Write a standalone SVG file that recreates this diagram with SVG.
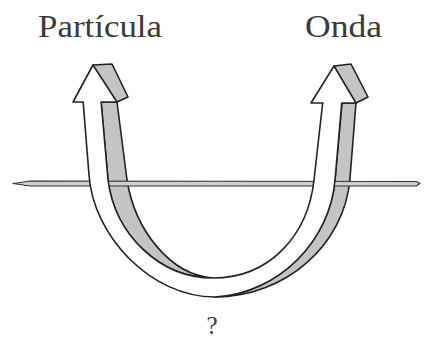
<svg xmlns="http://www.w3.org/2000/svg" width="425" height="342" viewBox="0 0 425 342">
<style>
.lbl{font-family:"Liberation Serif","Times New Roman",serif;fill:#3a3a3a}
.edge{stroke:#222;stroke-width:1.6;stroke-linejoin:round;stroke-linecap:round}
.gray{fill:#c4c4c4}
.white{fill:#ffffff}
</style>
<rect width="425" height="342" fill="#ffffff"/>
<g id="label-particula"><text class="lbl" x="38" y="37" font-size="32" textLength="124" lengthAdjust="spacingAndGlyphs">Partícula</text></g>
<g id="label-onda"><text class="lbl" x="305" y="37" font-size="32" textLength="77" lengthAdjust="spacingAndGlyphs">Onda</text></g>
<g id="label-question"><text class="lbl" x="212" y="334" font-size="25" text-anchor="middle" fill="#555">?</text></g>
<g id="connectors">
  <g id="ribbon">
    <path class="gray edge" d="M356,103 L350,178 C345,245 285,297 215,297 C280,293 330,240 335,180 L342,103 Z"/>
    <path class="gray edge" d="M101,102 L108,180 C115,235 160,278 213,278 C170,275 135,230 127,180 L117,102 Z"/>
  </g>
  <g id="plane">
    <path d="M13,183.5 L30,181 L416,181.5 L420,183.5 L416,186 L30,186 Z" fill="#cfcfcf" stroke="#333" stroke-width="1.2" stroke-linejoin="round"/>
  </g>
  <g id="ribbon-front">
    <path class="white edge" d="M83,100 L89,175 C93,235 150,297 215,297 C280,293 330,240 335,180 L342,100 L323,100 L314,180 C308,235 270,278 213,278 C160,278 115,235 108,180 L101,100 Z"/>
  </g>
  <g id="head-left">
    <polygon class="white" points="73,102 93,65 117,102"/>
    <polygon class="gray" points="93,65 112,64 128,97 117,102"/>
    <polyline class="edge" fill="none" points="83,102 73,102 93,65 112,64 128,97 117,102 101,102"/>
    <line class="edge" x1="93" y1="65" x2="117" y2="102"/>
  </g>
  <g id="head-right">
    <polygon class="white" points="311,103 334,66 356,103"/>
    <polygon class="gray" points="334,66 351,64 368,97 356,103"/>
    <polyline class="edge" fill="none" points="323,103 311,103 334,66 351,64 368,97 356,103 342,103"/>
    <line class="edge" x1="334" y1="66" x2="356" y2="103"/>
  </g>
</g>
</svg>
